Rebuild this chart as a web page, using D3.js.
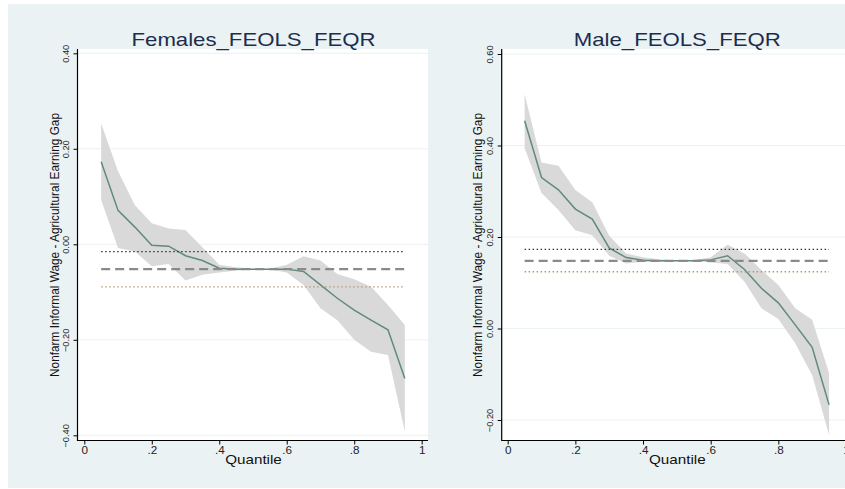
<!DOCTYPE html>
<html>
<head>
<meta charset="utf-8">
<script src="https://cdn.jsdelivr.net/npm/d3@7"></script>
<style>
  body { margin: 0; background: #fff; }
  svg { display: block; font-family: "Liberation Sans", Arial, sans-serif; }
</style>
</head>
<body>
<div id="chart"></div>
<script>
// quantiles estimated in the FEQR
const quantiles = [0.05, 0.10, 0.15, 0.20, 0.25, 0.30, 0.35, 0.40, 0.45, 0.50,
                   0.55, 0.60, 0.65, 0.70, 0.75, 0.80, 0.85, 0.90, 0.95];

// females: quantile coefficient and confidence band
const femaleCoef  = [0.173, 0.071, 0.036, -0.002, -0.004, -0.024, -0.034, -0.050, -0.052, -0.052,
                     -0.052, -0.052, -0.057, -0.085, -0.113, -0.138, -0.159, -0.179, -0.281];
const femaleUpper = [0.253, 0.153, 0.082, 0.044, 0.033, 0.030, -0.006, -0.043, -0.048, -0.051,
                     -0.051, -0.043, -0.025, -0.034, -0.062, -0.073, -0.089, -0.127, -0.169];
const femaleLower = [0.093, -0.008, -0.015, -0.046, -0.041, -0.076, -0.064, -0.059, -0.055, -0.053,
                     -0.053, -0.059, -0.085, -0.134, -0.159, -0.200, -0.225, -0.232, -0.392];
// females FEOLS: lower bound, estimate, upper bound
const femaleOls = [-0.089, -0.052, -0.0155];

// males
const maleCoef  = [0.454, 0.330, 0.303, 0.261, 0.239, 0.176, 0.155, 0.149, 0.148, 0.148,
                   0.148, 0.150, 0.159, 0.129, 0.088, 0.056, 0.008, -0.041, -0.167];
const maleUpper = [0.512, 0.363, 0.356, 0.303, 0.276, 0.203, 0.164, 0.156, 0.151, 0.149,
                   0.149, 0.156, 0.183, 0.164, 0.128, 0.095, 0.044, 0.019, -0.098];
const maleLower = [0.394, 0.296, 0.259, 0.215, 0.204, 0.159, 0.142, 0.146, 0.146, 0.147,
                   0.147, 0.144, 0.141, 0.102, 0.044, 0.021, -0.032, -0.102, -0.233];
const maleOls = [0.124, 0.148, 0.173];

const xTicks = [0, 0.2, 0.4, 0.6, 0.8, 1];
const xTickLabels = ["0", ".2", ".4", ".6", ".8", "1"];
const femaleYTicks = [-0.4, -0.2, 0, 0.2, 0.4];
const maleYTicks = [-0.2, 0, 0.2, 0.4, 0.6];

const yTitle = "Nonfarm Informal Wage - Agricultural Earning Gap";

let svg = d3.select("#chart")
            .append("svg")
            .attr("width", 845)
            .attr("height", 489);

// graph region
svg.append("rect")
   .attr("x", 8).attr("y", 4)
   .attr("width", 837).attr("height", 484)
   .attr("fill", "#eaf2f3");

// source picture is a bit wider than tall, so horizontal text gets stretched
function stretch(sel, k) {
  sel.each(function () {
    let w = this.getComputedTextLength();
    d3.select(this).attr("textLength", w * k).attr("lengthAdjust", "spacingAndGlyphs");
  });
}

function drawPanel(p) {
  let x = d3.scaleLinear().domain([0, 1]).range(p.xRange);
  let y = d3.scaleLinear().domain(p.yDomain).range(p.yRange);
  let g = svg.append("g");

  // plot region
  g.append("rect")
   .attr("x", p.left).attr("y", p.top)
   .attr("width", p.right - p.left).attr("height", p.bottom - p.top)
   .attr("fill", "#fff");

  // gridlines
  g.selectAll(".grid")
   .data(p.yTicks)
   .enter()
   .append("line")
   .attr("x1", p.left).attr("x2", p.right)
   .attr("y1", d => y(d)).attr("y2", d => y(d))
   .attr("stroke", "#eaf2f3")
   .attr("stroke-width", 1);

  let rows = quantiles.map((q, i) => ({ q: q, c: p.coef[i], hi: p.upper[i], lo: p.lower[i] }));

  let area = d3.area()
               .x(d => x(d.q))
               .y0(d => y(d.lo))
               .y1(d => y(d.hi));

  g.append("path")
   .datum(rows)
   .attr("d", area)
   .attr("fill", "#d9d9d9");

  let line = d3.line()
               .x(d => x(d.q))
               .y(d => y(d.c));

  g.append("path")
   .datum(rows)
   .attr("d", line)
   .attr("fill", "none")
   .attr("stroke", "#5f8b7b")
   .attr("stroke-width", 1.5);

  // FEOLS estimate and its bounds
  let q0 = quantiles[0], q1 = quantiles[quantiles.length - 1];
  let olsStyle = [
    { v: p.ols[0], color: "#b8976a", dash: "1.5,2.5", w: 1.3 },
    { v: p.ols[1], color: "#8a8a8a", dash: "9,5", w: 2.2 },
    { v: p.ols[2], color: "#333333", dash: "1.5,2.5", w: 1.2 }
  ];
  g.selectAll(".ols")
   .data(olsStyle)
   .enter()
   .append("line")
   .attr("x1", x(q0)).attr("x2", x(q1))
   .attr("y1", d => y(d.v)).attr("y2", d => y(d.v))
   .attr("stroke", d => d.color)
   .attr("stroke-dasharray", d => d.dash)
   .attr("stroke-width", d => d.w);

  // y axis
  let yAxis = g.append("g")
               .attr("transform", `translate(${p.left},0)`)
               .call(d3.axisLeft(y).tickValues(p.yTicks).tickSize(4).tickFormat(d3.format(".2f")));
  yAxis.select(".domain").remove();
  yAxis.selectAll(".tick line").attr("stroke", "#000");
  yAxis.selectAll(".tick text")
       .attr("x", 0).attr("dy", null)
       .attr("transform", "translate(-8.5,0) rotate(-90)")
       .attr("text-anchor", "middle")
       .attr("font-size", 9.3)
       .attr("fill", "#222")
       .attr("font-family", "Liberation Sans, Arial, sans-serif");

  // x axis
  let xAxis = g.append("g")
               .attr("transform", `translate(0,${p.bottom})`)
               .call(d3.axisBottom(x).tickValues(xTicks).tickSize(4)
                       .tickFormat((d, i) => xTickLabels[i]));
  xAxis.select(".domain").remove();
  xAxis.selectAll(".tick line").attr("stroke", "#000");
  xAxis.selectAll(".tick text")
       .attr("y", 6).attr("dy", "0.71em")
       .attr("font-size", 10)
       .attr("fill", "#222")
       .attr("font-family", "Liberation Sans, Arial, sans-serif")
       .call(stretch, 1.17);

  g.append("path")
   .attr("d", `M${p.left},${p.top}V${p.bottom}H${p.right}`)
   .attr("fill", "none")
   .attr("stroke", "#000")
   .attr("stroke-width", 1.2);

  // titles
  g.append("text")
   .attr("x", p.titleX).attr("y", 45.5)
   .attr("text-anchor", "middle")
   .attr("font-size", 19)
   .attr("fill", "#1c2d4e")
   .text(p.title)
   .call(stretch, 1.167);

  g.append("text")
   .attr("x", p.titleX).attr("y", 464)
   .attr("text-anchor", "middle")
   .attr("font-size", 13)
   .attr("fill", "#111")
   .text("Quantile")
   .call(stretch, 1.17);

  g.append("text")
   .attr("transform", `translate(${p.yTitleX},245) rotate(-90)`)
   .attr("text-anchor", "middle")
   .attr("font-size", 12)
   .attr("fill", "#111")
   .attr("textLength", 264)
   .attr("lengthAdjust", "spacingAndGlyphs")
   .text(yTitle);
}

drawPanel({
  title: "Females_FEOLS_FEQR",
  coef: femaleCoef, upper: femaleUpper, lower: femaleLower, ols: femaleOls,
  yTicks: femaleYTicks, yDomain: [-0.4, 0.4], yRange: [435.3, 53.3],
  xRange: [84.3, 421.7],
  left: 77.5, right: 428, top: 49, bottom: 440.5,
  titleX: 253.5, yTitleX: 59
});

drawPanel({
  title: "Male_FEOLS_FEQR",
  coef: maleCoef, upper: maleUpper, lower: maleLower, ols: maleOls,
  yTicks: maleYTicks, yDomain: [-0.2, 0.6], yRange: [420, 54],
  xRange: [507.7, 846],
  left: 501.7, right: 845, top: 49, bottom: 440.5,
  titleX: 677.3, yTitleX: 481.5
});
</script>
</body>
</html>
